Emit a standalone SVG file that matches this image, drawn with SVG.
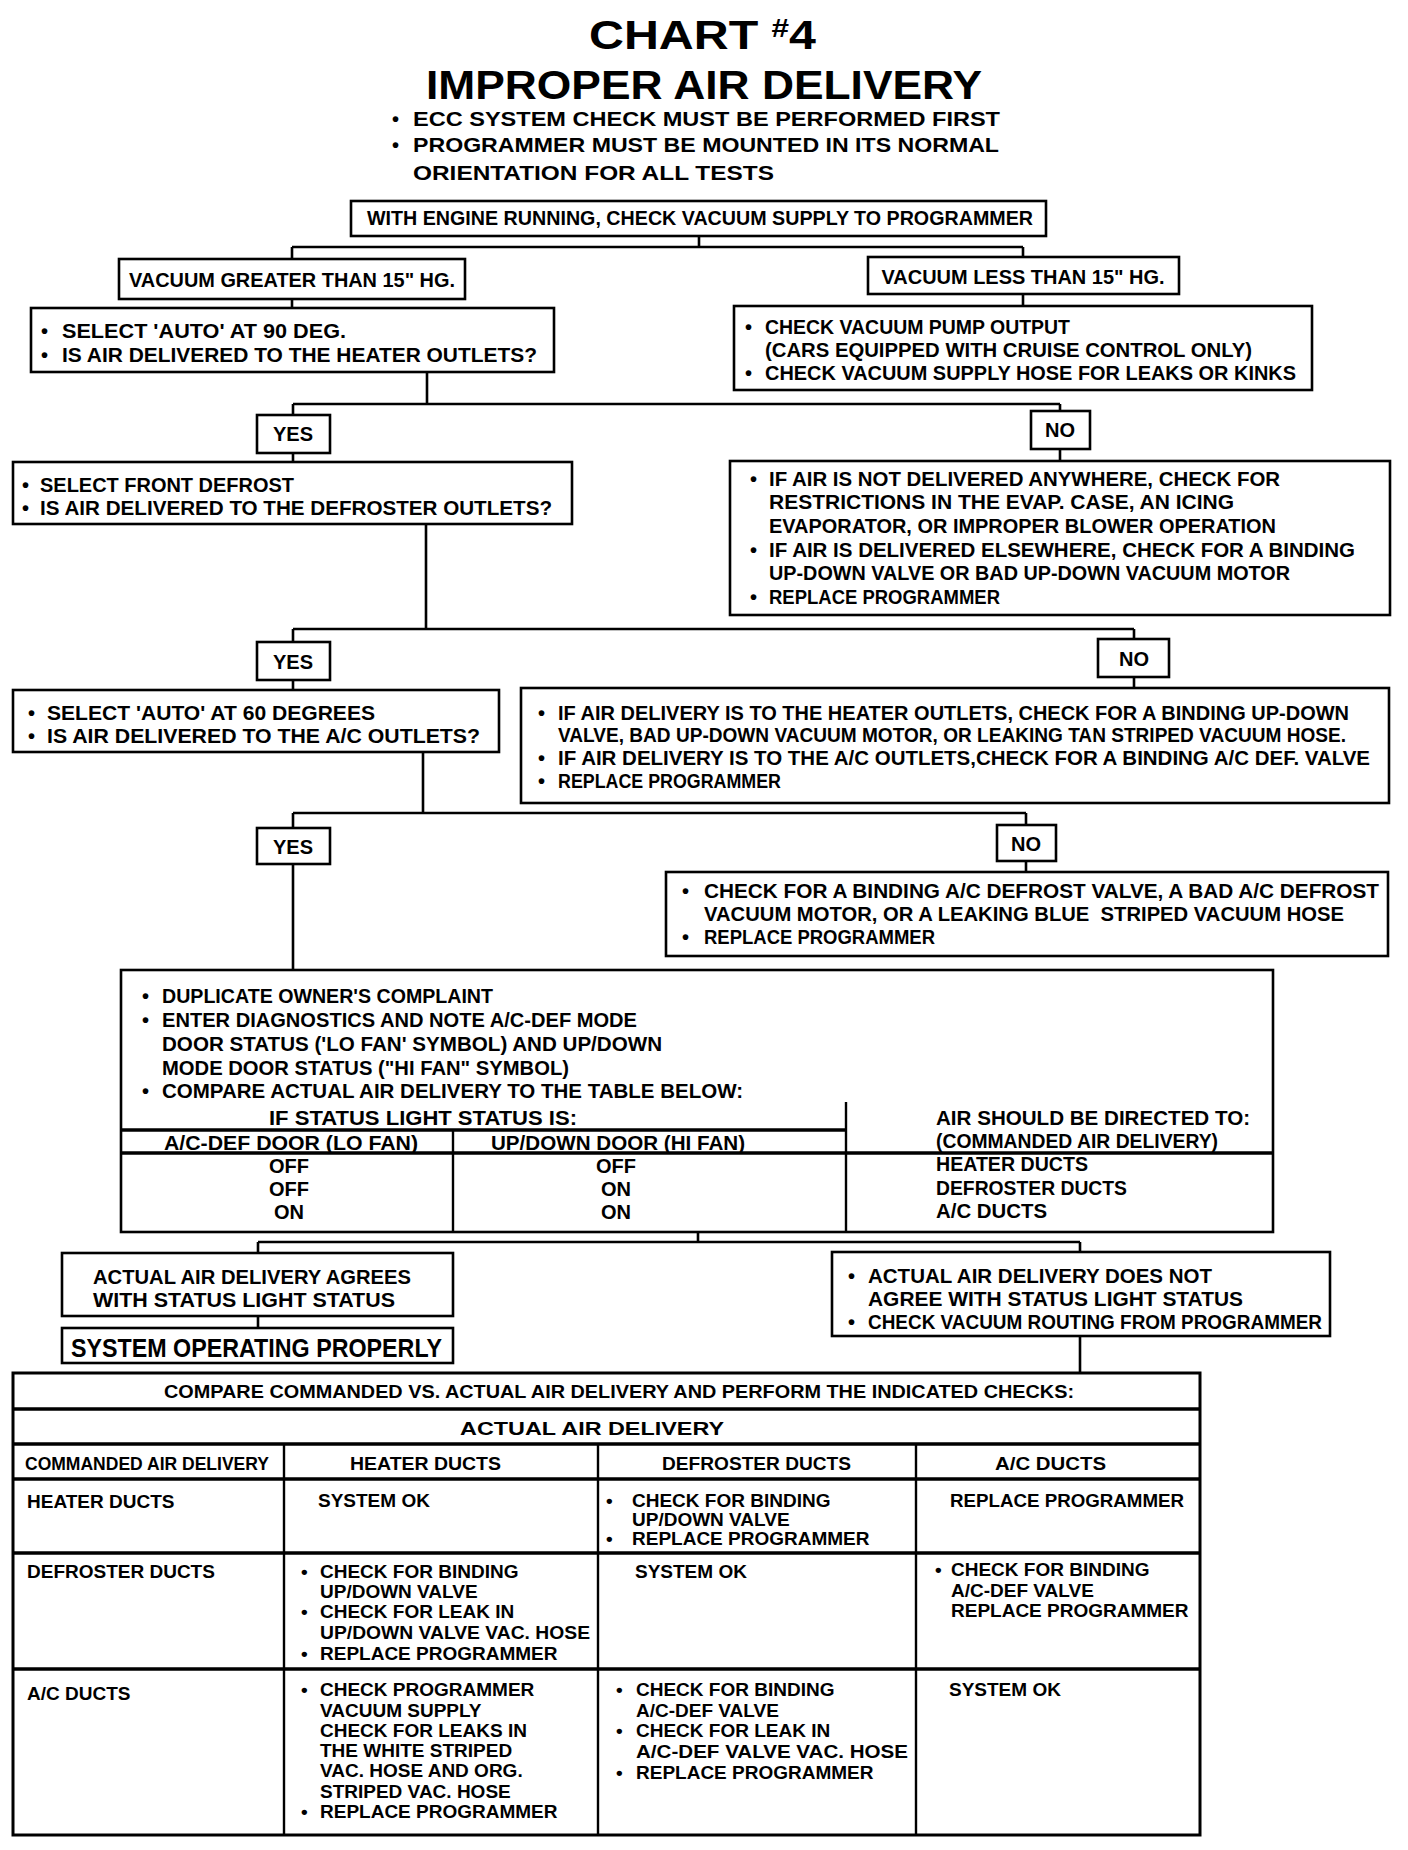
<svg xmlns="http://www.w3.org/2000/svg" width="1408" height="1850" viewBox="0 0 1408 1850">
<style>
.bg{fill:#fff}
.box{fill:#fff;stroke:#000;stroke-width:2.6}
.conn{fill:none;stroke:#000;stroke-width:2.6}
.vr{stroke:#000;stroke-width:2.4}
.hr{stroke:#000;stroke-width:3.6}
text{font-family:"Liberation Sans",Arial,sans-serif;font-weight:bold;font-size:20px;fill:#000}
.c{text-anchor:middle}
.title{font-size:40px}
.sub{font-size:20px}
.big{font-size:25px}
.tb{font-size:19px}
.pre{white-space:pre}
</style>
<rect class="bg" x="0" y="0" width="1408" height="1850"/>

<g id="title">
<text class="title" x="589" y="49" textLength="227" lengthAdjust="spacingAndGlyphs">CHART <tspan font-size="26" dy="-12">#</tspan><tspan dy="12">4</tspan></text>
<text class="title" x="426" y="99" textLength="556" lengthAdjust="spacingAndGlyphs">IMPROPER AIR DELIVERY</text>
<text class="sub" x="392" y="126">•</text>
<text class="sub" x="413" y="126" textLength="587" lengthAdjust="spacingAndGlyphs">ECC SYSTEM CHECK MUST BE PERFORMED FIRST</text>
<text class="sub" x="392" y="152">•</text>
<text class="sub" x="413" y="152" textLength="586" lengthAdjust="spacingAndGlyphs">PROGRAMMER MUST BE MOUNTED IN ITS NORMAL</text>
<text class="sub" x="413" y="180" textLength="361" lengthAdjust="spacingAndGlyphs">ORIENTATION FOR ALL TESTS</text>
</g>

<g id="connectors">
<path class="conn" d="M699,236 V247 M292,247 H1023 M292,247 V259 M1023,247 V257"/>
<path class="conn" d="M292,299 V308"/>
<path class="conn" d="M1023,294 V306"/>
<path class="conn" d="M427,372 V404 M293,404 H1060 M293,404 V415 M1060,404 V411"/>
<path class="conn" d="M293,453 V462"/>
<path class="conn" d="M1060,449 V461"/>
<path class="conn" d="M426,524 V629 M293,629 H1134 M293,629 V642 M1134,629 V639"/>
<path class="conn" d="M293,680 V690"/>
<path class="conn" d="M1134,677 V688"/>
<path class="conn" d="M423,752 V813 M293,813 H1026 M293,813 V828 M1026,813 V825"/>
<path class="conn" d="M1026,861 V872"/>
<path class="conn" d="M293,864 V970"/>
<path class="conn" d="M698,1232 V1242 M258,1242 H1080 M258,1242 V1253 M1080,1242 V1252"/>
<path class="conn" d="M258,1316 V1328"/>
<path class="conn" d="M1080,1336 V1373"/>
</g>

<g id="n_start">
<rect class="box" x="351" y="201" width="695" height="35"/>
<text class="c" x="700" y="225" textLength="666" lengthAdjust="spacingAndGlyphs">WITH ENGINE RUNNING, CHECK VACUUM SUPPLY TO PROGRAMMER</text>
</g>

<g id="n_vac_gt">
<rect class="box" x="119" y="259" width="346" height="40"/>
<text class="c" x="292" y="287" textLength="326" lengthAdjust="spacingAndGlyphs">VACUUM GREATER THAN 15&quot; HG.</text>
</g>

<g id="n_vac_lt">
<rect class="box" x="868" y="257" width="311" height="37"/>
<text class="c" x="1023" y="284" textLength="283" lengthAdjust="spacingAndGlyphs">VACUUM LESS THAN 15&quot; HG.</text>
</g>

<g id="n_auto90">
<rect class="box" x="31" y="308" width="523" height="64"/>
<text x="41" y="338">•</text>
<text x="62" y="338" textLength="284" lengthAdjust="spacingAndGlyphs">SELECT 'AUTO' AT 90 DEG.</text>
<text x="41" y="362">•</text>
<text x="62" y="362" textLength="475" lengthAdjust="spacingAndGlyphs">IS AIR DELIVERED TO THE HEATER OUTLETS?</text>
</g>

<g id="n_vacpump">
<rect class="box" x="734" y="306" width="578" height="84"/>
<text x="745" y="334">•</text>
<text x="765" y="334" textLength="305" lengthAdjust="spacingAndGlyphs">CHECK VACUUM PUMP OUTPUT</text>
<text x="765" y="357" textLength="487" lengthAdjust="spacingAndGlyphs">(CARS EQUIPPED WITH CRUISE CONTROL ONLY)</text>
<text x="745" y="380">•</text>
<text x="765" y="380" textLength="531" lengthAdjust="spacingAndGlyphs">CHECK VACUUM SUPPLY HOSE FOR LEAKS OR KINKS</text>
</g>

<g id="n_yes1">
<rect class="box" x="257" y="415" width="73" height="38"/>
<text class="c" x="293" y="441">YES</text>
</g>

<g id="n_no1">
<rect class="box" x="1031" y="411" width="59" height="38"/>
<text class="c" x="1060" y="437">NO</text>
</g>

<g id="n_frontdef">
<rect class="box" x="13" y="462" width="559" height="62"/>
<text x="22" y="492">•</text>
<text x="40" y="492" textLength="254" lengthAdjust="spacingAndGlyphs">SELECT FRONT DEFROST</text>
<text x="22" y="515">•</text>
<text x="40" y="515" textLength="512" lengthAdjust="spacingAndGlyphs">IS AIR DELIVERED TO THE DEFROSTER OUTLETS?</text>
</g>

<g id="n_no1_actions">
<rect class="box" x="730" y="461" width="660" height="154"/>
<text x="750" y="486">•</text>
<text x="769" y="486" textLength="511" lengthAdjust="spacingAndGlyphs">IF AIR IS NOT DELIVERED ANYWHERE, CHECK FOR</text>
<text x="769" y="509" textLength="465" lengthAdjust="spacingAndGlyphs">RESTRICTIONS IN THE EVAP. CASE, AN ICING</text>
<text x="769" y="533" textLength="507" lengthAdjust="spacingAndGlyphs">EVAPORATOR, OR IMPROPER BLOWER OPERATION</text>
<text x="750" y="557">•</text>
<text x="769" y="557" textLength="586" lengthAdjust="spacingAndGlyphs">IF AIR IS DELIVERED ELSEWHERE, CHECK FOR A BINDING</text>
<text x="769" y="580" textLength="521" lengthAdjust="spacingAndGlyphs">UP-DOWN VALVE OR BAD UP-DOWN VACUUM MOTOR</text>
<text x="750" y="604">•</text>
<text x="769" y="604" textLength="231" lengthAdjust="spacingAndGlyphs">REPLACE PROGRAMMER</text>
</g>

<g id="n_yes2">
<rect class="box" x="257" y="642" width="73" height="38"/>
<text class="c" x="293" y="669">YES</text>
</g>

<g id="n_no2">
<rect class="box" x="1098" y="639" width="71" height="38"/>
<text class="c" x="1134" y="666">NO</text>
</g>

<g id="n_auto60">
<rect class="box" x="13" y="690" width="486" height="62"/>
<text x="28" y="720">•</text>
<text x="47" y="720" textLength="328" lengthAdjust="spacingAndGlyphs">SELECT 'AUTO' AT 60 DEGREES</text>
<text x="28" y="743">•</text>
<text x="47" y="743" textLength="433" lengthAdjust="spacingAndGlyphs">IS AIR DELIVERED TO THE A/C OUTLETS?</text>
</g>

<g id="n_no2_actions">
<rect class="box" x="521" y="688" width="868" height="115"/>
<text x="538" y="720">•</text>
<text x="558" y="720" textLength="791" lengthAdjust="spacingAndGlyphs">IF AIR DELIVERY IS TO THE HEATER OUTLETS, CHECK FOR A BINDING UP-DOWN</text>
<text x="558" y="742" textLength="788" lengthAdjust="spacingAndGlyphs">VALVE, BAD UP-DOWN VACUUM MOTOR, OR LEAKING TAN STRIPED VACUUM HOSE.</text>
<text x="538" y="765">•</text>
<text x="558" y="765" textLength="812" lengthAdjust="spacingAndGlyphs">IF AIR DELIVERY IS TO THE A/C OUTLETS,CHECK FOR A BINDING A/C DEF. VALVE</text>
<text x="538" y="788">•</text>
<text x="558" y="788" textLength="223" lengthAdjust="spacingAndGlyphs">REPLACE PROGRAMMER</text>
</g>

<g id="n_yes3">
<rect class="box" x="257" y="828" width="73" height="36"/>
<text class="c" x="293" y="854">YES</text>
</g>

<g id="n_no3">
<rect class="box" x="997" y="825" width="59" height="36"/>
<text class="c" x="1026" y="851">NO</text>
</g>

<g id="n_no3_actions">
<rect class="box" x="666" y="872" width="722" height="84"/>
<text x="682" y="898">•</text>
<text x="704" y="898" textLength="675" lengthAdjust="spacingAndGlyphs">CHECK FOR A BINDING A/C DEFROST VALVE, A BAD A/C DEFROST</text>
<text class="pre" x="704" y="921" textLength="640" lengthAdjust="spacingAndGlyphs">VACUUM MOTOR, OR A LEAKING BLUE  STRIPED VACUUM HOSE</text>
<text x="682" y="944">•</text>
<text x="704" y="944" textLength="231" lengthAdjust="spacingAndGlyphs">REPLACE PROGRAMMER</text>
</g>

<g id="n_diagnostics">
<rect class="box" x="121" y="970" width="1152" height="262"/>
<text x="142" y="1003">•</text>
<text x="162" y="1003" textLength="331" lengthAdjust="spacingAndGlyphs">DUPLICATE OWNER'S COMPLAINT</text>
<text x="142" y="1027">•</text>
<text x="162" y="1027" textLength="475" lengthAdjust="spacingAndGlyphs">ENTER DIAGNOSTICS AND NOTE A/C-DEF MODE</text>
<text x="162" y="1051" textLength="500" lengthAdjust="spacingAndGlyphs">DOOR STATUS ('LO FAN' SYMBOL) AND UP/DOWN</text>
<text x="162" y="1075" textLength="407" lengthAdjust="spacingAndGlyphs">MODE DOOR STATUS (&quot;HI FAN&quot; SYMBOL)</text>
<text x="142" y="1098">•</text>
<text x="162" y="1098" textLength="581" lengthAdjust="spacingAndGlyphs">COMPARE ACTUAL AIR DELIVERY TO THE TABLE BELOW:</text>
<line class="vr" x1="846" y1="1102" x2="846" y2="1232"/>
<line class="hr" x1="121" y1="1130" x2="846" y2="1130"/>
<line class="vr" x1="453" y1="1130" x2="453" y2="1232"/>
<line class="hr" x1="121" y1="1153" x2="1273" y2="1153"/>
<text x="269" y="1125" textLength="308" lengthAdjust="spacingAndGlyphs">IF STATUS LIGHT STATUS IS:</text>
<text x="164" y="1150" textLength="254" lengthAdjust="spacingAndGlyphs">A/C-DEF DOOR (LO FAN)</text>
<text x="491" y="1150" textLength="254" lengthAdjust="spacingAndGlyphs">UP/DOWN DOOR (HI FAN)</text>
<text x="936" y="1125" textLength="314" lengthAdjust="spacingAndGlyphs">AIR SHOULD BE DIRECTED TO:</text>
<text x="936" y="1148" textLength="282" lengthAdjust="spacingAndGlyphs">(COMMANDED AIR DELIVERY)</text>
<text class="c" x="289" y="1173">OFF</text>
<text class="c" x="289" y="1196">OFF</text>
<text class="c" x="289" y="1219">ON</text>
<text class="c" x="616" y="1173">OFF</text>
<text class="c" x="616" y="1196">ON</text>
<text class="c" x="616" y="1219">ON</text>
<text x="936" y="1171" textLength="152" lengthAdjust="spacingAndGlyphs">HEATER DUCTS</text>
<text x="936" y="1195" textLength="191" lengthAdjust="spacingAndGlyphs">DEFROSTER DUCTS</text>
<text x="936" y="1218" textLength="111" lengthAdjust="spacingAndGlyphs">A/C DUCTS</text>
</g>

<g id="n_agree">
<rect class="box" x="62" y="1253" width="391" height="63"/>
<text x="93" y="1284" textLength="318" lengthAdjust="spacingAndGlyphs">ACTUAL AIR DELIVERY AGREES</text>
<text x="93" y="1307" textLength="302" lengthAdjust="spacingAndGlyphs">WITH STATUS LIGHT STATUS</text>
</g>

<g id="n_system_ok">
<rect class="box" x="62" y="1328" width="391" height="35"/>
<text class="big" x="71" y="1357" textLength="371" lengthAdjust="spacingAndGlyphs">SYSTEM OPERATING PROPERLY</text>
</g>

<g id="n_not_agree">
<rect class="box" x="832" y="1252" width="498" height="84"/>
<text x="848" y="1283">•</text>
<text x="868" y="1283" textLength="344" lengthAdjust="spacingAndGlyphs">ACTUAL AIR DELIVERY DOES NOT</text>
<text x="868" y="1306" textLength="375" lengthAdjust="spacingAndGlyphs">AGREE WITH STATUS LIGHT STATUS</text>
<text x="848" y="1329">•</text>
<text x="868" y="1329" textLength="454" lengthAdjust="spacingAndGlyphs">CHECK VACUUM ROUTING FROM PROGRAMMER</text>
</g>

<g id="n_check_table">
<rect class="box" x="13" y="1373" width="1187" height="462" style="stroke-width:3"/>
<line class="hr" x1="13" y1="1409" x2="1200" y2="1409"/>
<line class="hr" x1="13" y1="1444" x2="1200" y2="1444"/>
<line class="hr" x1="13" y1="1479" x2="1200" y2="1479"/>
<line class="hr" x1="13" y1="1553" x2="1200" y2="1553"/>
<line class="hr" x1="13" y1="1669" x2="1200" y2="1669"/>
<line class="vr" x1="284" y1="1444" x2="284" y2="1835"/>
<line class="vr" x1="598" y1="1444" x2="598" y2="1835"/>
<line class="vr" x1="916" y1="1444" x2="916" y2="1835"/>
<text class="tb" x="164" y="1398" textLength="910" lengthAdjust="spacingAndGlyphs">COMPARE COMMANDED VS. ACTUAL AIR DELIVERY AND PERFORM THE INDICATED CHECKS:</text>
<text class="tb" x="460" y="1435" textLength="264" lengthAdjust="spacingAndGlyphs">ACTUAL AIR DELIVERY</text>
<text class="tb" x="25" y="1470" textLength="244" lengthAdjust="spacingAndGlyphs">COMMANDED AIR DELIVERY</text>
<text class="tb" x="350" y="1470" textLength="151" lengthAdjust="spacingAndGlyphs">HEATER DUCTS</text>
<text class="tb" x="662" y="1470" textLength="189" lengthAdjust="spacingAndGlyphs">DEFROSTER DUCTS</text>
<text class="tb" x="995" y="1470" textLength="111" lengthAdjust="spacingAndGlyphs">A/C DUCTS</text>

<text class="tb" x="27" y="1508">HEATER DUCTS</text>
<text class="tb" x="318" y="1507">SYSTEM OK</text>
<text class="tb" x="606" y="1507">•</text>
<text class="tb" x="632" y="1507">CHECK FOR BINDING</text>
<text class="tb" x="632" y="1526">UP/DOWN VALVE</text>
<text class="tb" x="606" y="1545">•</text>
<text class="tb" x="632" y="1545">REPLACE PROGRAMMER</text>
<text class="tb" x="950" y="1507" textLength="234" lengthAdjust="spacingAndGlyphs">REPLACE PROGRAMMER</text>

<text class="tb" x="27" y="1578">DEFROSTER DUCTS</text>
<text class="tb" x="301" y="1578">•</text>
<text class="tb" x="320" y="1578">CHECK FOR BINDING</text>
<text class="tb" x="320" y="1598">UP/DOWN VALVE</text>
<text class="tb" x="301" y="1618">•</text>
<text class="tb" x="320" y="1618">CHECK FOR LEAK IN</text>
<text class="tb" x="320" y="1639" textLength="270" lengthAdjust="spacingAndGlyphs">UP/DOWN VALVE VAC. HOSE</text>
<text class="tb" x="301" y="1660">•</text>
<text class="tb" x="320" y="1660">REPLACE PROGRAMMER</text>
<text class="tb" x="635" y="1578">SYSTEM OK</text>
<text class="tb" x="935" y="1576">•</text>
<text class="tb" x="951" y="1576">CHECK FOR BINDING</text>
<text class="tb" x="951" y="1597">A/C-DEF VALVE</text>
<text class="tb" x="951" y="1617">REPLACE PROGRAMMER</text>

<text class="tb" x="27" y="1700">A/C DUCTS</text>
<text class="tb" x="301" y="1696">•</text>
<text class="tb" x="320" y="1696">CHECK PROGRAMMER</text>
<text class="tb" x="320" y="1717">VACUUM SUPPLY</text>
<text class="tb" x="320" y="1737">CHECK FOR LEAKS IN</text>
<text class="tb" x="320" y="1757">THE WHITE STRIPED</text>
<text class="tb" x="320" y="1777">VAC. HOSE AND ORG.</text>
<text class="tb" x="320" y="1798">STRIPED VAC. HOSE</text>
<text class="tb" x="301" y="1818">•</text>
<text class="tb" x="320" y="1818">REPLACE PROGRAMMER</text>
<text class="tb" x="616" y="1696">•</text>
<text class="tb" x="636" y="1696">CHECK FOR BINDING</text>
<text class="tb" x="636" y="1717">A/C-DEF VALVE</text>
<text class="tb" x="616" y="1737">•</text>
<text class="tb" x="636" y="1737">CHECK FOR LEAK IN</text>
<text class="tb" x="636" y="1758" textLength="272" lengthAdjust="spacingAndGlyphs">A/C-DEF VALVE VAC. HOSE</text>
<text class="tb" x="616" y="1779">•</text>
<text class="tb" x="636" y="1779">REPLACE PROGRAMMER</text>
<text class="tb" x="949" y="1696">SYSTEM OK</text>
</g>
</svg>
